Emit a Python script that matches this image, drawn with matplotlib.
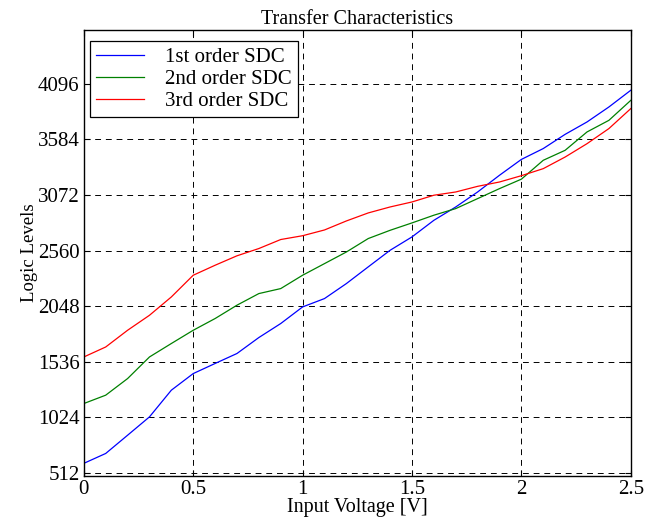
import numpy as np
import matplotlib
matplotlib.use('Agg')
import matplotlib.pyplot as plt

# input voltage samples [V]
volts = [0.0, 0.1, 0.2, 0.3, 0.4, 0.5, 0.6, 0.7, 0.8, 0.9, 1.0, 1.1, 1.2,
         1.3, 1.4, 1.5, 1.6, 1.7, 1.8, 1.9, 2.0, 2.1, 2.2, 2.3, 2.4, 2.5]

# logic levels
sdc1 = [600, 691, 859, 1028, 1274, 1427, 1520, 1612, 1759, 1888, 2041, 2118, 2256,
        2410, 2563, 2686, 2839, 2962, 3100, 3254, 3400, 3500, 3631, 3745, 3883, 4037]
sdc2 = [1151, 1228, 1381, 1580, 1704, 1826, 1934, 2057, 2164, 2210, 2333, 2440, 2547,
        2671, 2747, 2815, 2886, 2947, 3039, 3131, 3218, 3392, 3484, 3653, 3760, 3944]
sdc3 = [1580, 1672, 1826, 1964, 2133, 2333, 2425, 2512, 2579, 2662, 2697, 2750, 2833,
        2907, 2962, 3008, 3070, 3100, 3152, 3192, 3250, 3315, 3422, 3545, 3684, 3868]

ytick_vals = [512, 1024, 1536, 2048, 2560, 3072, 3584, 4096]
xtick_vals = [0, 0.5, 1, 1.5, 2, 2.5]
xtick_labels = ['0', '0.5', '1', '1.5', '2', '2.5']

plt.rcParams['font.family'] = ['Liberation Serif', 'DejaVu Serif']

fig = plt.figure(figsize=(6.55, 5.23), dpi=100)
ax = fig.add_axes([0.128, 0.09, 0.835, 0.853])

ax.plot(volts, sdc1, color='#0000ff', lw=0.9, label='1st order SDC')
ax.plot(volts, sdc2, color='#008000', lw=0.9, label='2nd order SDC')
ax.plot(volts, sdc3, color='#ff0000', lw=0.9, label='3rd order SDC')

ax.set_xlim(0, 2.5)
ax.set_ylim(484, 4594)
ax.set_xticks(xtick_vals)
ax.set_xticklabels(xtick_labels)
ax.set_yticks(ytick_vals)

ax.grid(True, color='black', lw=0.7, linestyle=(0, (6, 5)))
ax.tick_params(direction='in', top=True, right=True, labelsize=15, length=4, pad=3)
for sp in ax.spines.values():
    sp.set_linewidth(1.0)

ax.set_title('Transfer Characteristics', fontsize=14.5, pad=4)
ax.set_xlabel('Input Voltage [V]', fontsize=14.5, labelpad=-1)
ax.set_ylabel('Logic Levels', fontsize=13.5, labelpad=0)

leg = ax.legend(loc='upper left', bbox_to_anchor=(0.011, 0.975), borderaxespad=0,
                fontsize=15, fancybox=False, framealpha=1, edgecolor='black',
                handlelength=2.3, labelspacing=0.12, borderpad=0.3, handletextpad=1.0)
leg.get_frame().set_linewidth(0.9)

fig.savefig('out.png', dpi=100)
